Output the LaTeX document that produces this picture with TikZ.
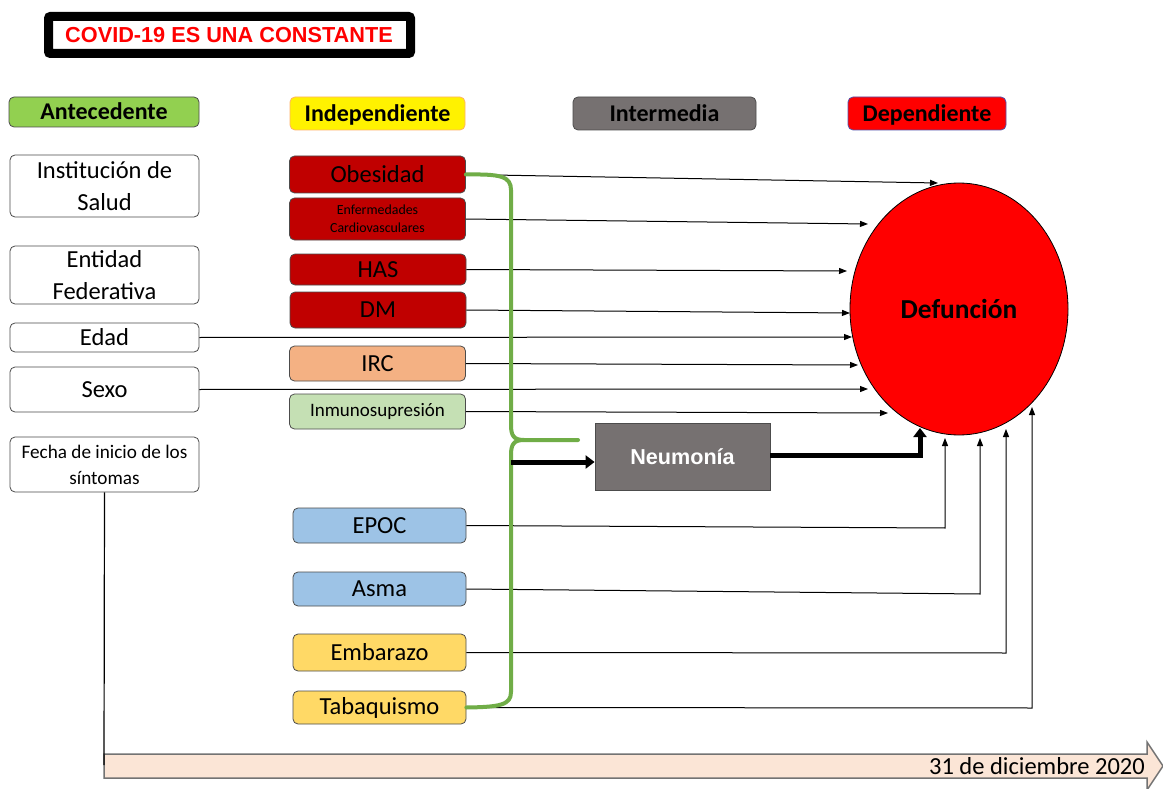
\documentclass[tikz,border=0pt]{standalone}
\usepackage{fontspec}
\setmainfont{Carlito}
\newfontfamily\arialf{Liberation Sans}
\usetikzlibrary{arrows.meta,shapes.geometric}
\definecolor{dred}{HTML}{C00000}
\definecolor{ircc}{HTML}{F4B183}
\definecolor{inmc}{HTML}{C5E0B4}
\definecolor{bluec}{HTML}{9DC3E6}
\definecolor{yelc}{HTML}{FFD966}
\definecolor{grayc}{HTML}{767171}
\definecolor{hgreen}{HTML}{92D050}
\definecolor{peach}{HTML}{FBE5D6}
\definecolor{brgreen}{HTML}{70AD47}
\definecolor{redc}{HTML}{FF0000}
\begin{document}
\begin{tikzpicture}[x=1pt,y=-1pt,
  box/.style={draw=black!70, line width=0.8pt, rounded corners=5pt, align=center, inner sep=0pt, font=\fontsize{24.5}{32}\selectfont},
  hdr/.style={box, text height=17pt, text depth=1pt, font=\bfseries\fontsize{24}{26}\selectfont},
  lnk/.style={line width=1pt, -{Triangle[length=8pt,width=6pt]}},
  fatarrow/.style={line width=5pt, -{Triangle[length=9pt,width=13pt]}},
  lbox/.style={box, minimum width=189pt},
  mbox/.style={box, minimum width=176pt},
  nbox/.style={box, minimum width=173pt}]
\fill[white] (0,0) rectangle (1163,789);
\useasboundingbox (0,0) rectangle (1163,789);

% title
\draw[line width=9pt, rounded corners=2pt, fill=white] (48.5,16.5) rectangle (410.5,53.5);
\node[font=\arialf\bfseries\fontsize{21.7}{24}\selectfont, text=redc] (title) at (229,35) {COVID-19 ES UNA CONSTANTE};

% headers
\node[hdr, fill=hgreen, minimum width=190pt, minimum height=30pt] (ante) at (104,112) {Antecedente};
\node[hdr, fill=yellow, draw=orange!60, minimum width=175pt, minimum height=33pt] (indep) at (377.5,113.5) {Independiente};
\node[hdr, fill=grayc, minimum width=183pt, minimum height=33pt] (inter) at (664.5,113.5) {Intermedia};
\node[hdr, fill=redc, draw=blue!35!gray, minimum width=158pt, minimum height=33pt] (dep) at (927,113.5) {Dependiente};

% left column
\node[lbox, minimum height=62pt] (inst) at (104.5,186) {Institución de\\Salud};
\node[lbox, minimum height=58pt] (ent) at (104.5,275) {Entidad\\Federativa};
\node[lbox, minimum height=29pt] (edad) at (104.5,337.5) {Edad};
\node[lbox, minimum height=45pt] (sexo) at (104.5,389.5) {Sexo};
\node[lbox, minimum height=55pt, font=\fontsize{19.2}{26}\selectfont] (fecha) at (104.5,464.5) {Fecha de inicio de los\\síntomas};

% middle column
\node[mbox, fill=dred, minimum height=37pt] (obes) at (377.5,174.5) {Obesidad};
\node[mbox, fill=dred, minimum height=42pt, font=\fontsize{13.9}{18}\selectfont] (enf) at (377.5,219) {Enfermedades\\Cardiovasculares};
\node[mbox, fill=dred, minimum height=31pt] (has) at (378,269.5) {HAS};
\node[mbox, fill=dred, minimum height=36pt] (dm) at (378,310) {DM};
\node[mbox, fill=ircc, minimum height=35pt] (irc) at (377.5,363.5) {IRC};
\node[mbox, fill=inmc, minimum height=35pt, font=\fontsize{19}{22}\selectfont] (inm) at (377.5,411.5) {Inmunosupresión};
\node[nbox, fill=bluec, minimum height=35pt] (epoc) at (379.5,525.5) {EPOC};
\node[nbox, fill=bluec, minimum height=34pt] (asma) at (379.5,589) {Asma};
\node[nbox, fill=yelc, minimum height=37pt] (emb) at (379.5,652.5) {Embarazo};
\node[nbox, fill=yelc, minimum height=33pt] (tab) at (379.5,707.5) {Tabaquismo};

% neumonia and defuncion
\node[draw=black!70, line width=0.8pt, fill=grayc, minimum width=175pt, minimum height=67pt, text=white, font=\arialf\bfseries\fontsize{21.6}{24}\selectfont] (neu) at (682.5,456.5) {Neumonía};
\node[ellipse, draw=black, line width=0.8pt, fill=redc, minimum width=218pt, minimum height=252pt, inner sep=0pt, font=\bfseries\fontsize{27.4}{30}\selectfont] (def) at (959,309) {Defunción};

% end points
\coordinate (tObes) at (938,183);
\coordinate (tEnf) at (868,224);
\coordinate (tHas) at (847,271);
\coordinate (tDm) at (850,313);
\coordinate (tEdad) at (852,337);
\coordinate (tIrc) at (858,365);
\coordinate (tSexo) at (868,389);
\coordinate (tInm) at (888,413);
\coordinate (cEpoc) at (945,528);
\coordinate (tEpoc) at (945,438);
\coordinate (cAsma) at (980,594);
\coordinate (tAsma) at (980,438);
\coordinate (cEmb) at (1006,653);
\coordinate (tEmb) at (1006,429);
\coordinate (cTab) at (1032,708);
\coordinate (tTab) at (1032,407);
\coordinate (cNeu) at (920,455);
\coordinate (tNeu) at (920,428);
\coordinate (bNeu) at (511,462);

\draw[lnk] (obes.east) -- (tObes);
\draw[lnk] (enf.east) -- (tEnf);
\draw[lnk] (has.east) -- (tHas);
\draw[lnk] (dm.east) -- (tDm);
\draw[lnk] (edad.east) -- (tEdad);
\draw[lnk] (irc.east) -- (tIrc);
\draw[lnk] (sexo.east) -- (tSexo);
\draw[lnk] (inm.east) -- (tInm);
\draw[lnk] (epoc.east) -- (cEpoc) -- (tEpoc);
\draw[lnk] (asma.east) -- (cAsma) -- (tAsma);
\draw[lnk] (emb.east) -- (cEmb) -- (tEmb);
\draw[lnk] (tab.east) -- (cTab) -- (tTab);

% brace
\draw[brgreen, line width=4pt, line join=round, line cap=round]
  (obes.east) .. controls (500,174) and (511,176) .. (511,190)
  -- (511,425) .. controls (511,436) and (514,440) .. (524,440) -- (578,440)
  -- (524,440) .. controls (514,440) and (511,444) .. (511,455)
  -- (511,692) .. controls (511,705) and (500,707) .. (tab.east);

% thick arrows
\draw[fatarrow] (bNeu) -- (neu.west |- bNeu);
\draw[fatarrow] (neu.east |- cNeu) -- (cNeu) -- (tNeu);

% timeline
\draw[draw=black!55, line width=1.5pt, fill=peach, line join=miter]
  (104,754) -- (1147,754) -- (1147,742) -- (1163,766) -- (1147,790) -- (1147,778) -- (104,778) -- cycle;
\node[anchor=east, inner sep=0pt, font=\fontsize{24.5}{26}\selectfont] (fin) at (1145,766) {31 de diciembre 2020};
\coordinate (tline) at (104,765);
\draw[line width=1.2pt] (fecha.south) -- (tline);
\end{tikzpicture}
\end{document}
